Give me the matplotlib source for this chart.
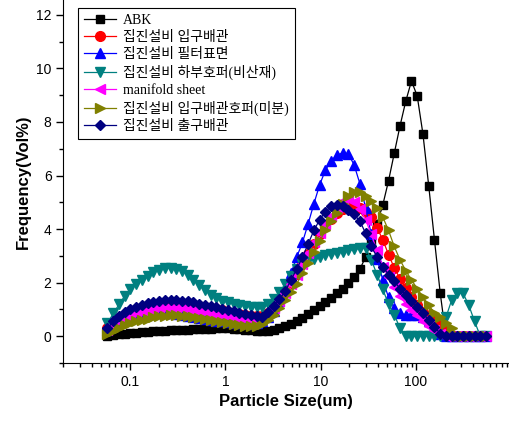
import matplotlib
matplotlib.use('Agg')
import matplotlib.pyplot as plt
from matplotlib.ticker import LogLocator, NullFormatter, MultipleLocator

# particle size bins (um)
size = [0.058, 0.067, 0.077, 0.088, 0.101, 0.116, 0.133, 0.153, 0.175, 0.201,
        0.231, 0.266, 0.305, 0.351, 0.403, 0.463, 0.531, 0.610, 0.701, 0.805, 0.925,
        1.062, 1.220, 1.402, 1.610, 1.850, 2.125, 2.441, 2.804, 3.221, 3.700, 4.250,
        4.882, 5.608, 6.443, 7.401, 8.502, 9.766,
        11.22, 12.89, 14.80, 17.01, 19.53, 22.44, 25.78, 29.61, 34.01, 39.07, 44.88,
        51.56, 59.23, 68.03, 78.15, 89.78,
        103.1, 118.4, 136.1, 156.3, 179.6, 206.3, 236.9, 272.2, 312.6, 359.1, 412.5,
        473.8, 544.3]

abk = [0.02, 0.05, 0.07, 0.09, 0.11, 0.13, 0.15, 0.16, 0.18, 0.20,
       0.21, 0.22, 0.23, 0.24, 0.25, 0.26, 0.27, 0.28, 0.28, 0.29, 0.29,
       0.29, 0.28, 0.27, 0.25, 0.23, 0.21, 0.20, 0.21, 0.25, 0.31, 0.38,
       0.46, 0.56, 0.68, 0.82, 0.97, 1.12,
       1.28, 1.44, 1.60, 1.78, 1.98, 2.20, 2.50, 2.95, 3.55, 4.20, 4.90,
       5.80, 6.83, 7.85, 8.77, 9.53,
       8.97, 7.55, 5.62, 3.61, 1.62, 0.0, 0.0, 0.0, 0.0, 0.0, 0.0,
       0.0, 0.0]

inlet = [0.30, 0.47, 0.62, 0.75, 0.86, 0.95, 1.03, 1.09, 1.14, 1.18,
         1.21, 1.23, 1.23, 1.22, 1.19, 1.16, 1.12, 1.08, 1.04, 1.00, 0.96,
         0.92, 0.88, 0.84, 0.80, 0.76, 0.74, 0.76, 0.88, 1.08, 1.33, 1.63,
         1.98, 2.33, 2.70, 3.08, 3.45, 3.80,
         4.10, 4.38, 4.60, 4.76, 4.86, 4.88, 4.80, 4.65, 4.45, 4.05, 3.60,
         3.05, 2.55, 2.15, 1.80, 1.45,
         1.15, 0.92, 0.72, 0.55, 0.40, 0.20, 0.0, 0.0, 0.0, 0.0, 0.0,
         0.0, 0.0]

filter_surf = [0.25, 0.40, 0.52, 0.62, 0.70, 0.76, 0.80, 0.83, 0.85, 0.86,
               0.86, 0.85, 0.83, 0.80, 0.77, 0.73, 0.69, 0.65, 0.61, 0.58, 0.55,
               0.53, 0.51, 0.49, 0.48, 0.47, 0.48, 0.55, 0.70, 0.95, 1.30, 1.80,
               2.35, 2.95, 3.50, 4.20, 4.95, 5.65,
               6.20, 6.55, 6.75, 6.85, 6.80, 6.40, 5.70, 4.80, 3.80, 2.90, 2.10,
               1.45, 1.05, 0.85, 0.80, 0.80,
               0.78, 0.72, 0.55, 0.30, 0.08, 0.0, 0.0, 0.0, 0.0, 0.0, 0.0,
               0.0, 0.0]

hopper_fly = [0.50, 0.85, 1.20, 1.50, 1.75, 1.95, 2.10, 2.25, 2.38, 2.47,
              2.53, 2.55, 2.52, 2.45, 2.30, 2.10, 1.90, 1.72, 1.55, 1.42, 1.33,
              1.27, 1.22, 1.18, 1.14, 1.10, 1.08, 1.10, 1.22, 1.40, 1.65, 1.95,
              2.25, 2.50, 2.70, 2.82, 2.90, 2.97,
              3.03, 3.08, 3.12, 3.16, 3.20, 3.24, 3.28, 3.30, 2.85, 2.30, 1.75,
              1.20, 0.80, 0.30, 0.0, 0.0,
              0.0, 0.0, 0.0, 0.0, 0.0, 0.70, 1.35, 1.60, 1.60, 1.15, 0.55,
              0.0, 0.0]

manifold = [0.25, 0.42, 0.56, 0.68, 0.78, 0.86, 0.92, 0.97, 1.01, 1.04,
            1.06, 1.07, 1.07, 1.05, 1.02, 0.98, 0.94, 0.90, 0.86, 0.82, 0.78,
            0.74, 0.70, 0.67, 0.64, 0.62, 0.63, 0.70, 0.85, 1.05, 1.30, 1.60,
            1.95, 2.30, 2.70, 3.10, 3.50, 3.85,
            4.20, 4.50, 4.80, 5.05, 5.15, 5.00, 4.75, 4.35, 3.80, 3.20, 2.60,
            2.20, 1.85, 1.50, 1.20, 0.98,
            0.78, 0.55, 0.38, 0.22, 0.08, 0.0, 0.0, 0.0, 0.0, 0.0, 0.0,
            0.0, 0.0]

hopper_fine = [0.08, 0.20, 0.30, 0.40, 0.48, 0.55, 0.61, 0.66, 0.70, 0.74,
               0.76, 0.78, 0.78, 0.77, 0.75, 0.72, 0.68, 0.64, 0.60, 0.56, 0.52,
               0.48, 0.45, 0.42, 0.39, 0.37, 0.38, 0.45, 0.62, 0.80, 1.05, 1.35,
               1.65, 1.95, 2.35, 2.75, 3.15, 3.55,
               3.95, 4.30, 4.60, 4.95, 5.25, 5.38, 5.38, 5.25, 5.05, 4.80, 4.45,
               3.95, 3.35, 2.85, 2.45, 2.10,
               1.78, 1.45, 1.15, 0.88, 0.70, 0.50, 0.30, 0.0, 0.0, 0.0, 0.0,
               0.0, 0.0]

outlet = [0.30, 0.55, 0.75, 0.90, 1.02, 1.10, 1.17, 1.23, 1.28, 1.32,
          1.35, 1.36, 1.35, 1.33, 1.30, 1.26, 1.22, 1.18, 1.13, 1.08, 1.03,
          0.98, 0.93, 0.88, 0.83, 0.78, 0.74, 0.72, 0.90, 1.12, 1.38, 1.68,
          2.10, 2.50, 2.95, 3.45, 3.95, 4.35,
          4.65, 4.85, 4.90, 4.85, 4.72, 4.55, 4.30, 3.85, 3.35, 2.95, 2.60,
          2.30, 2.05, 1.78, 1.55, 1.33,
          1.08, 0.85, 0.60, 0.35, 0.10, 0.0, 0.0, 0.0, 0.0, 0.0, 0.0,
          0.0, 0.0]

labels = ['ABK', '집진설비 입구배관', '집진설비 필터표면', '집진설비 하부호퍼(비산재)',
          'manifold sheet', '집진설비 입구배관호퍼(미분)', '집진설비 출구배관']

fig = plt.figure(figsize=(5.10, 4.21), dpi=100)
ax = fig.add_axes([0.1243, 0.1378, 0.874, 0.862])

ax.plot(size, abk, '-s', color='black', lw=0.9, ms=6, label=labels[0])
ax.plot(size, inlet, '-o', color='red', lw=0.9, ms=7, label=labels[1])
ax.plot(size, filter_surf, '-^', color='blue', lw=0.9, ms=7, label=labels[2])
ax.plot(size, hopper_fly, '-v', color='#008080', lw=0.9, ms=7, label=labels[3])
ax.plot(size, manifold, '-<', color='magenta', lw=0.9, ms=7, label=labels[4])
ax.plot(size, hopper_fine, '->', color='#808000', lw=0.9, ms=7, label=labels[5])
ax.plot(size, outlet, '-D', color='#000080', lw=0.9, ms=5.5, label=labels[6])

ax.set_xscale('log')
ax.set_xlim(0.02, 950)
ax.set_ylim(-1, 12.55)

ax.spines['top'].set_visible(False)
ax.spines['right'].set_visible(False)

ax.set_xticks([0.1, 1, 10, 100])
ax.set_xticklabels(['0.1', '1', '10', '100'])
ax.xaxis.set_minor_locator(LogLocator(base=10, subs=range(2, 10), numticks=20))
ax.xaxis.set_minor_formatter(NullFormatter())
ax.set_yticks([0, 2, 4, 6, 8, 10, 12])
ax.yaxis.set_minor_locator(MultipleLocator(1))
ax.tick_params(which='major', direction='out', length=5, width=1, labelsize=10)
ax.tick_params(which='minor', direction='out', length=3, width=1)
for t in ax.get_xticklabels() + ax.get_yticklabels():
    t.set_family('Liberation Sans')

ax.set_xlabel('Particle Size(um)', fontsize=12, fontweight='bold', family='Liberation Sans')
ax.set_ylabel('Frequency(Vol%)', fontsize=12, fontweight='bold', family='Liberation Sans')

leg = ax.legend(loc='upper left', bbox_to_anchor=(0.033, 0.978), borderaxespad=0,
                prop={'family': ['Liberation Serif', 'Noto Sans CJK KR'], 'size': 10},
                fancybox=False, framealpha=1, edgecolor='black', handlelength=2.3,
                labelspacing=0.28, borderpad=0.45, handletextpad=0.5)
leg.get_frame().set_linewidth(0.8)

fig.savefig('out.png', dpi=100)
